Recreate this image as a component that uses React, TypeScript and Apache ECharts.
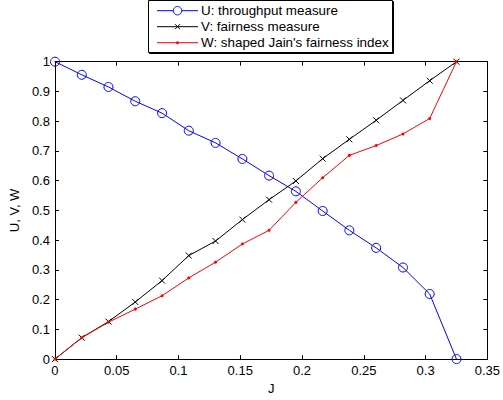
import React, { useEffect, useRef } from "react";
import * as echarts from "echarts";

const jValues = [0, 0.0217, 0.0433, 0.065, 0.0867, 0.1083, 0.13, 0.1517, 0.1733, 0.195, 0.2167, 0.2383, 0.26, 0.2817, 0.3033, 0.325];
const uValues = [1, 0.956, 0.915, 0.867, 0.827, 0.768, 0.727, 0.673, 0.617, 0.564, 0.498, 0.433, 0.374, 0.308, 0.219, 0];
const vValues = [0, 0.072, 0.126, 0.192, 0.264, 0.348, 0.397, 0.469, 0.536, 0.599, 0.674, 0.739, 0.803, 0.87, 0.936, 1];
const wValues = [0, 0.072, 0.124, 0.168, 0.213, 0.273, 0.326, 0.387, 0.433, 0.527, 0.61, 0.685, 0.718, 0.757, 0.809, 1];
const seriesNames = ["U: throughput measure", "V: fairness measure", "W: shaped Jain's fairness index"];
const xTickLabels = ["0", "0.05", "0.1", "0.15", "0.2", "0.25", "0.3", "0.35"];
const yTickLabels = ["0", "0.1", "0.2", "0.3", "0.4", "0.5", "0.6", "0.7", "0.8", "0.9", "1"];

const FONT = "'Liberation Sans', Arial, Helvetica, sans-serif";
const FS = 13;
const LEGEND_FS = 13.4;
const BLUE = "#0000ff";
const RED = "#ff0000";
const BLACK = "#000000";

export default function App() {
  const ref = useRef<HTMLDivElement>(null);
  useEffect(() => {
    if (!ref.current) return;
    const chart = echarts.init(ref.current, null, { renderer: "svg" });
    const pair = (ys: number[]) => ys.map((y, i) => [jValues[i], y]);
    const axisCommon = {
      type: "value" as const,
      axisLine: { show: true, onZero: false, lineStyle: { color: BLACK, width: 1 } },
      axisTick: { show: true, inside: true, length: 4, lineStyle: { color: BLACK } },
      splitLine: { show: false },
    };
    const legendX = 148.5;
    const rowY = [10.7, 26.7, 42.7];
    chart.setOption({
      animation: false,
      backgroundColor: "#ffffff",
      grid: { left: 51, right: 12.3, top: 61.7, bottom: 36.7, containLabel: false },
      xAxis: [
        {
          ...axisCommon,
          position: "bottom",
          min: 0,
          max: 0.35,
          interval: 0.05,
          name: "J",
          nameLocation: "middle",
          nameGap: 20,
          nameTextStyle: { color: BLACK, fontSize: FS, fontFamily: FONT },
          axisLabel: {
            color: BLACK,
            fontSize: FS,
            fontFamily: FONT,
            margin: 5,
            formatter: (v: number) => xTickLabels[Math.round(v / 0.05)] ?? "",
          },
        },
        {
          ...axisCommon,
          position: "top",
          min: 0,
          max: 0.35,
          interval: 0.05,
          axisLabel: { show: false },
        },
      ],
      yAxis: [
        {
          ...axisCommon,
          position: "left",
          min: 0,
          max: 1,
          interval: 0.1,
          name: "U, V, W",
          nameLocation: "middle",
          nameRotate: 90,
          nameGap: 31,
          nameTextStyle: { color: BLACK, fontSize: FS, fontFamily: FONT },
          axisLabel: {
            color: BLACK,
            fontSize: FS,
            fontFamily: FONT,
            margin: 5,
            formatter: (v: number) => yTickLabels[Math.round(v / 0.1)] ?? "",
          },
        },
        {
          ...axisCommon,
          position: "right",
          min: 0,
          max: 1,
          interval: 0.1,
          axisLabel: { show: false },
        },
      ],
      series: [
        {
          name: seriesNames[0],
          type: "line",
          data: pair(uValues),
          symbol: "circle",
          symbolSize: 9,
          showAllSymbol: true,
          itemStyle: { color: "transparent", borderColor: BLUE, borderWidth: 1 },
          lineStyle: { color: BLUE, width: 1 },
          emphasis: { disabled: true },
          silent: true,
          z: 2,
        },
        {
          name: seriesNames[1],
          type: "line",
          data: pair(vValues),
          symbol: "path://M0,0L10,10M10,0L0,10",
          symbolSize: 6,
          showAllSymbol: true,
          itemStyle: { color: "transparent", borderColor: BLACK, borderWidth: 1 },
          lineStyle: { color: BLACK, width: 1 },
          emphasis: { disabled: true },
          silent: true,
          z: 3,
        },
        {
          name: seriesNames[2],
          type: "line",
          data: pair(wValues),
          symbol: "circle",
          symbolSize: 3,
          showAllSymbol: true,
          itemStyle: { color: RED, borderWidth: 0 },
          lineStyle: { color: RED, width: 1 },
          emphasis: { disabled: true },
          silent: true,
          z: 4,
        },
      ],
      graphic: [
        {
          type: "rect",
          shape: { x: legendX + 1, y: 1.5, width: 244, height: 52 },
          style: { fill: BLACK, stroke: BLACK, lineWidth: 1 },
          z: 10,
        },
        {
          type: "rect",
          shape: { x: legendX, y: 0.5, width: 244, height: 52 },
          style: { fill: "#ffffff", stroke: BLACK, lineWidth: 1 },
          z: 11,
        },
        { type: "line", shape: { x1: 157, y1: rowY[0], x2: 198, y2: rowY[0] }, style: { stroke: BLUE, lineWidth: 1 }, z: 12 },
        { type: "circle", shape: { cx: 177.5, cy: rowY[0], r: 4.2 }, style: { fill: "#ffffff", stroke: BLUE, lineWidth: 1 }, z: 13 },
        { type: "line", shape: { x1: 157, y1: rowY[1], x2: 198, y2: rowY[1] }, style: { stroke: BLACK, lineWidth: 1 }, z: 12 },
        { type: "line", shape: { x1: 175, y1: rowY[1] - 2.5, x2: 180, y2: rowY[1] + 2.5 }, style: { stroke: BLACK, lineWidth: 1 }, z: 13 },
        { type: "line", shape: { x1: 180, y1: rowY[1] - 2.5, x2: 175, y2: rowY[1] + 2.5 }, style: { stroke: BLACK, lineWidth: 1 }, z: 13 },
        { type: "line", shape: { x1: 157, y1: rowY[2], x2: 198, y2: rowY[2] }, style: { stroke: RED, lineWidth: 1 }, z: 12 },
        { type: "circle", shape: { cx: 177.5, cy: rowY[2], r: 1.5 }, style: { fill: RED }, z: 13 },
        ...seriesNames.map((n, i) => ({
          type: "text",
          x: 201,
          y: rowY[i],
          style: { text: n, fill: BLACK, font: `${LEGEND_FS}px ${FONT}`, textVerticalAlign: "middle", verticalAlign: "middle" },
          z: 13,
        })),
      ],
    });
    return () => chart.dispose();
  }, []);
  return <div ref={ref} style={{ position: "absolute", left: 0, top: 0, width: 503, height: 400 }} />;
}
